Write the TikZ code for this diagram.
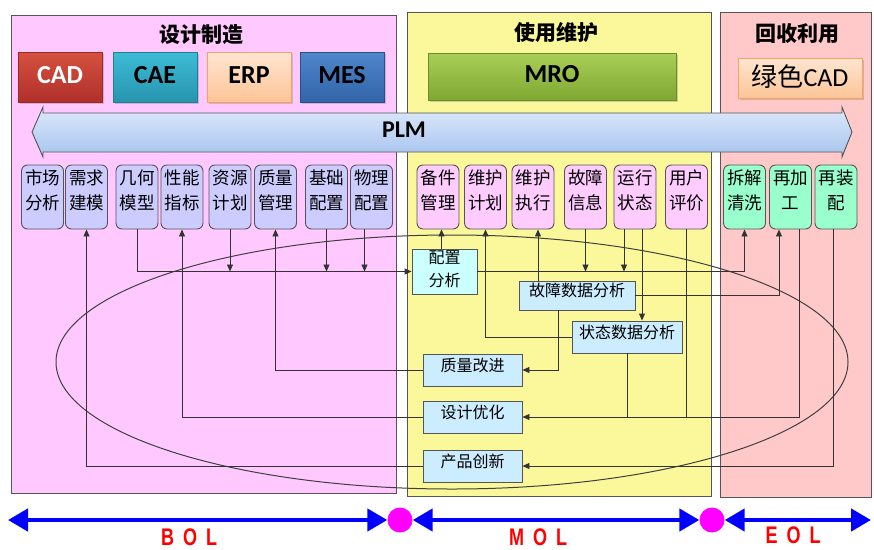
\documentclass[tikz,border=0pt]{standalone}
\usepackage{fontspec}
\setmainfont{Carlito}
\newfontfamily\cjk{Noto Sans CJK SC}
\newfontfamily\lat{Carlito}
\newfontfamily\arl{Liberation Sans}
\usetikzlibrary{arrows.meta,shadows}
\definecolor{pinkp}{HTML}{FFC9FF}
\definecolor{yellowp}{HTML}{FAF89A}
\definecolor{redp}{HTML}{FFC9C9}
\definecolor{lav}{HTML}{CCCCFF}
\definecolor{pinkm}{HTML}{FFCCFF}
\definecolor{mint}{HTML}{99FFCC}
\definecolor{anab}{HTML}{CCECFF}
\definecolor{anac}{HTML}{CCFFFF}
\definecolor{tblue}{HTML}{0000FF}
\definecolor{tmag}{HTML}{FF00FF}
\definecolor{cadT}{HTML}{D5503F}
\definecolor{cadB}{HTML}{B0302A}
\definecolor{cadD}{HTML}{9A2A22}
\definecolor{caeT}{HTML}{3CBCD6}
\definecolor{caeB}{HTML}{2894AE}
\definecolor{caeD}{HTML}{1F7F96}
\definecolor{erpT}{HTML}{FFE6D2}
\definecolor{erpB}{HTML}{FCC496}
\definecolor{erpD}{HTML}{F5A35E}
\definecolor{mesT}{HTML}{4F86CC}
\definecolor{mesB}{HTML}{3264A8}
\definecolor{mesD}{HTML}{27508A}
\definecolor{mroT}{HTML}{A9CF55}
\definecolor{mroB}{HTML}{7EA833}
\definecolor{mroD}{HTML}{6A8F2A}
\definecolor{plmT}{HTML}{DDE9FB}
\definecolor{plmB}{HTML}{A6C3EE}
\definecolor{edge}{HTML}{555555}
\newcommand\modbox[4]{\node[#4] (#1) at (#2,197) {}; \node[mtxt] at ([yshift=7pt]#1.center) {#3};}
\begin{document}
\begin{tikzpicture}[x=1pt,y=-1pt,
  panel/.style={draw=edge, line width=0.8pt, inner sep=0pt, anchor=north west},
  ptitle/.style={font=\cjk\bfseries\fontsize{21}{24}\selectfont, inner sep=0pt},
  tbox/.style={minimum width=84pt, minimum height=50pt, inner sep=0pt, line width=0.8pt,
     font=\lat\bfseries\fontsize{26}{30}\selectfont, text height=20pt, text depth=8pt,
     drop shadow={shadow xshift=1.5pt, shadow yshift=-1.5pt, opacity=0.35}},
  mod/.style={draw=edge, rounded corners=6pt, line width=0.9pt, minimum width=42pt,
     minimum height=64pt, inner sep=0pt},
  modA/.style={mod, fill=lav},
  modB/.style={mod, fill=pinkm},
  modC/.style={mod, fill=mint},
  mtxt/.style={align=center, inner sep=0pt, font=\cjk\fontsize{17.5}{25}\selectfont},
  abox/.style={draw=edge, line width=0.9pt, fill=anab, inner sep=0pt,
     font=\cjk\fontsize{16}{20}\selectfont, text height=11pt, text depth=9pt},
  conn/.style={draw=black!80, line width=0.9pt},
  arr/.style={conn, -{Triangle[length=7pt,width=6pt]}},
  tline/.style={draw=tblue, line width=4.5pt,
     {Triangle[length=20pt,width=22pt]}-{Triangle[length=20pt,width=22pt]}},
  dot/.style={circle, fill=tmag, minimum size=25pt, inner sep=0pt},
  tlab/.style={text=red, inner sep=0pt, font=\arl\bfseries\fontsize{24}{24}\selectfont}
]
\useasboundingbox (0,0) rectangle (874,549);
\fill[white] (0,0) rectangle (874,549);

% panels
\node[panel, fill=pinkp, minimum width=385pt, minimum height=478pt] (p1) at (11,15) {};
\node[panel, fill=yellowp, minimum width=304pt, minimum height=484pt] (p2) at (407,12) {};
\node[panel, fill=redp, minimum width=151pt, minimum height=485pt] (p3) at (720,12) {};
\node[ptitle] (t1) at (201,35) {设计制造};
\node[ptitle] (t2) at (556,33) {使用维护};
\node[ptitle] (t3) at (797,34) {回收利用};

% top boxes
\node[tbox, top color=cadT, bottom color=cadB, draw=cadD, text=white] (cad) at (60,77) {CAD};
\node[tbox, top color=caeT, bottom color=caeB, draw=caeD] (cae) at (155,77) {CAE};
\node[tbox, top color=erpT, bottom color=erpB, draw=erpD] (erp) at (249,77) {ERP};
\node[tbox, top color=mesT, bottom color=mesB, draw=mesD] (mes) at (342,77) {MES};
\node[tbox, top color=mroT, bottom color=mroB, draw=mroD, minimum width=248pt, minimum height=47pt] (mro) at (552,76.5) {MRO};
\node[tbox, top color=erpT, bottom color=erpB, draw=erpD, minimum width=124pt, minimum height=40pt,
  font=\fontsize{26}{30}\selectfont, text height=22pt, text depth=6pt] (gcad) at (800,78) {{\cjk 绿色}{\lat CAD}};

% PLM arrow
\draw[draw=edge, line width=0.9pt, top color=plmT, bottom color=plmB]
  (32,132) -- (43,107) -- (43,113) -- (842,113) -- (842,107) -- (852,132)
  -- (842,157) -- (842,152) -- (43,152) -- (43,157) -- cycle;
\node[font=\lat\bfseries\fontsize{24}{28}\selectfont, inner sep=0pt] (plm) at (404,130) {PLM};

% lifecycle ellipse
\draw[draw=black!75, line width=1pt] (452,362) ellipse [x radius=396, y radius=127];

% module boxes
\modbox{scfx}{42.5}{市场\\分析}{modA}
\modbox{xqjm}{86.5}{需求\\建模}{modA}
\modbox{jhmx}{137}{几何\\模型}{modA}
\modbox{xnzb}{182}{性能\\指标}{modA}
\modbox{zyjh}{230}{资源\\计划}{modA}
\modbox{zlgl}{275.5}{质量\\管理}{modA}
\modbox{jcpz}{326.5}{基础\\配置}{modA}
\modbox{wlpz}{371.5}{物理\\配置}{modA}
\modbox{bjgl}{438}{备件\\管理}{modB}
\modbox{whjh}{485.5}{维护\\计划}{modB}
\modbox{whzx}{533}{维护\\执行}{modB}
\modbox{gzxx}{585.5}{故障\\信息}{modB}
\modbox{yxzt}{635}{运行\\状态}{modB}
\modbox{yhpj}{686.5}{用户\\评价}{modB}
\modbox{cjqx}{744.5}{拆解\\清洗}{modC}
\modbox{zjg}{790.5}{再加\\工}{modC}
\modbox{zzp}{836}{再装\\配}{modC}

% analysis boxes
\node[draw=edge, line width=0.9pt, fill=anac, minimum width=65pt, minimum height=45pt, inner sep=0pt] (pzfx) at (444.5,271.5) {};
\node[align=center, inner sep=0pt, font=\cjk\fontsize{16}{23}\selectfont] at ([yshift=2pt]pzfx.center) {配置\\分析};
\node[abox, minimum width=116pt, minimum height=29pt] (gzsj) at (577,295.5) {故障数据分析};
\node[abox, minimum width=110pt, minimum height=32pt] (ztsj) at (627,337) {状态数据分析};
\node[abox, minimum width=99pt, minimum height=32pt] (zlgj) at (472.5,370) {质量改进};
\node[abox, minimum width=99pt, minimum height=32pt] (sjyh) at (472.5,417) {设计优化};
\node[abox, minimum width=99pt, minimum height=32pt] (cpcx) at (472.5,466) {产品创新};

% connectors
\draw[arr] (jhmx.south) |- (pzfx.west);
\draw[arr] (zyjh.south) -- (zyjh.south |- pzfx.west);
\draw[arr] (jcpz.south) -- (jcpz.south |- pzfx.west);
\draw[arr] ([xshift=-7pt]wlpz.south) -- ([xshift=-7pt]wlpz.south |- pzfx.west);
\draw[arr] ([xshift=-3pt]pzfx.north) -- ([xshift=-3pt]pzfx.north |- bjgl.south);
\draw[arr] (pzfx.east) -| (cjqx.south);
\draw[arr] (gzxx.south) -- (gzxx.south |- pzfx.east);
\draw[arr] ([xshift=-11pt]yxzt.south) -- ([xshift=-11pt]yxzt.south |- pzfx.east);
\draw[arr] ([xshift=7pt]yxzt.south) -- ([xshift=7pt]yxzt.south |- ztsj.north);
\draw[conn] (yhpj.south) -- (yhpj.south |- sjyh.east);
\draw[arr] (gzsj.east) -| ([xshift=-11.5pt]zjg.south);
\draw[arr] ([xshift=5pt]whzx.south |- gzsj.north) -- ([xshift=5pt]whzx.south);
\draw[arr] (ztsj.west) -| (whjh.south);
\draw[arr] ([xshift=-19pt]gzsj.south) |- (zlgj.east);
\draw[conn] (ztsj.south) -- (ztsj.south |- sjyh.east);
\draw[arr] ([xshift=8.5pt]zjg.south) |- (sjyh.east);
\draw[arr] ([xshift=-3pt]zzp.south) |- (cpcx.east);
\draw[arr] (zlgj.west) -| (zlgl.south);
\draw[arr] (sjyh.west) -| (xnzb.south);
\draw[arr] (cpcx.west) -| (xqjm.south);

% timeline
\coordinate (tl0) at (8,520);
\coordinate (tl3) at (871,520);
\node[dot] (d1) at (400,520) {};
\node[dot] (d2) at (712,520) {};
\draw[tline] (tl0) -- (d1.west);
\draw[tline] (d1.east) -- (d2.west);
\draw[tline] (d2.east) -- (tl3);
\node[tlab] (bol) at (189,537) {\scalebox{0.75}[1]{B\hspace{12pt}O\hspace{12pt}L}};
\node[tlab] (mol) at (538,537) {\scalebox{0.75}[1]{M\hspace{12pt}O\hspace{12pt}L}};
\node[tlab] (eol) at (793,535) {\scalebox{0.75}[1]{E\hspace{12pt}O\hspace{12pt}L}};
\end{tikzpicture}
\end{document}
